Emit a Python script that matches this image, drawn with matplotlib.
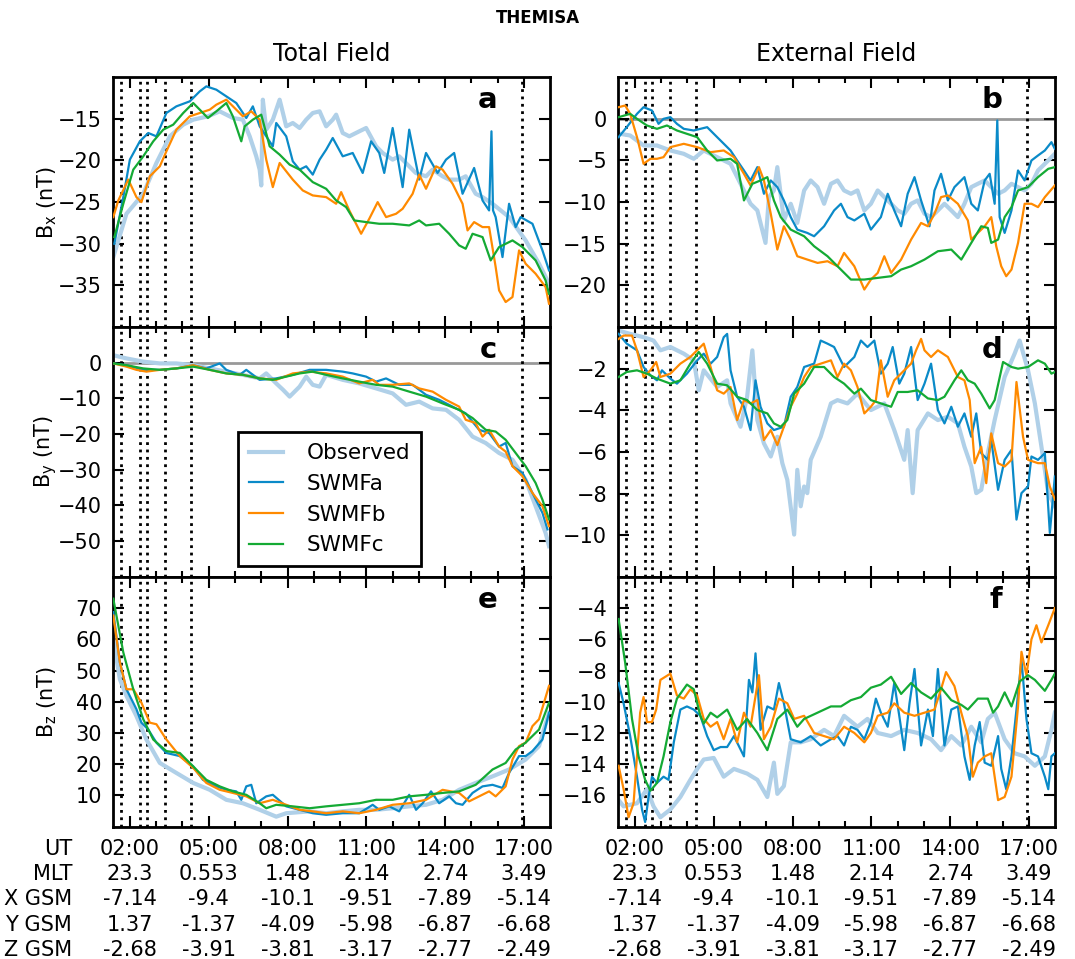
import numpy as np
import matplotlib
matplotlib.use('Agg')
from matplotlib import pyplot as plt
from matplotlib.ticker import MultipleLocator
import matplotlib.transforms as mtransforms

### time is in hours (UT); every series has its own time samples

## panel a : Bx total
a_obs_t = [1.37, 1.87, 2.51, 3.01, 3.52, 4.03, 4.41, 4.97, 5.42, 5.92, 6.30, 6.56, 6.81, 6.94, 7.0, 7.06, 7.19, 7.44, 7.70, 7.95, 8.20, 8.46, 8.71, 8.96, 9.22, 9.47, 9.72, 9.85, 10.10, 10.35, 10.73, 10.99, 11.37, 11.62, 12.0, 12.25, 12.63, 12.88, 13.27, 13.52, 13.90, 14.15, 14.53, 14.78, 15.16, 15.42, 15.80, 16.43, 17.06, 17.57, 17.95]
a_obs_v = [-31.6, -26.4, -24.0, -20.3, -17.1, -15.7, -15.1, -14.7, -14.1, -14.9, -15.1, -17.1, -19.5, -21.1, -23.0, -12.7, -16.3, -15.1, -12.7, -15.9, -15.5, -16.1, -15.1, -14.3, -14.1, -15.9, -15.1, -14.5, -16.7, -17.1, -16.5, -16.1, -18.3, -19.1, -19.9, -19.5, -20.7, -21.5, -21.9, -21.1, -21.9, -22.3, -22.3, -21.9, -24.0, -24.4, -25.2, -26.8, -29.6, -32.4, -34.8]
a_a_t = [1.41, 1.75, 2.0, 2.38, 2.70, 3.01, 3.39, 3.77, 4.28, 4.66, 4.91, 5.29, 5.67, 6.05, 6.43, 6.68, 6.94, 7.44, 7.57, 7.95, 8.20, 8.46, 8.71, 8.96, 9.22, 9.47, 9.72, 10.10, 10.48, 10.86, 11.18, 11.49, 11.68, 12.0, 12.38, 12.63, 13.01, 13.27, 13.71, 14.03, 14.34, 14.66, 15.10, 15.42, 15.67, 15.76, 15.82, 15.92, 16.18, 16.43, 16.68, 16.87, 17.32, 17.70, 17.95]
a_a_v = [-30.0, -24.4, -19.9, -17.7, -16.7, -17.1, -14.3, -13.5, -12.9, -11.7, -11.1, -11.5, -12.3, -13.1, -14.9, -13.5, -15.9, -18.3, -15.5, -17.1, -20.1, -21.1, -20.7, -21.7, -19.9, -18.7, -17.3, -19.5, -19.1, -21.5, -17.7, -19.1, -21.5, -16.1, -23.2, -16.3, -22.3, -19.1, -21.5, -19.9, -19.1, -24.0, -20.9, -24.8, -26.0, -16.5, -26.0, -26.8, -31.6, -25.2, -28.0, -26.8, -27.6, -30.8, -33.2]
a_b_t = [1.37, 1.56, 1.94, 2.25, 2.44, 2.76, 3.14, 3.39, 3.77, 4.28, 4.66, 5.04, 5.29, 5.67, 6.05, 6.30, 6.62, 6.94, 7.19, 7.44, 7.70, 8.20, 8.58, 8.96, 9.47, 9.85, 10.04, 10.35, 10.80, 11.11, 11.43, 11.75, 12.13, 12.38, 12.76, 13.01, 13.27, 13.65, 13.90, 14.28, 14.66, 14.85, 15.10, 15.42, 15.67, 15.92, 16.05, 16.30, 16.56, 16.81, 17.06, 17.44, 17.82, 17.95]
a_b_v = [-26.8, -24.8, -22.3, -24.4, -25.0, -21.9, -20.7, -18.9, -16.3, -14.7, -14.3, -13.9, -13.3, -12.7, -13.9, -14.7, -14.1, -15.1, -19.9, -23.2, -20.3, -22.3, -23.6, -24.2, -24.4, -25.2, -23.8, -26.0, -28.8, -27.0, -25.0, -26.8, -26.4, -25.8, -24.0, -21.7, -23.4, -20.7, -21.1, -22.8, -25.2, -28.4, -27.4, -28.0, -28.0, -32.8, -35.6, -37.0, -36.4, -30.8, -32.4, -33.6, -35.2, -37.2]
a_c_t = [1.41, 1.75, 2.13, 2.51, 2.89, 3.27, 3.65, 4.03, 4.41, 4.66, 4.97, 5.29, 5.67, 5.92, 6.24, 6.37, 6.68, 7.0, 7.32, 7.70, 8.08, 8.46, 8.96, 9.47, 9.85, 10.23, 10.54, 10.99, 11.49, 12.0, 12.63, 13.01, 13.27, 13.77, 14.15, 14.53, 14.78, 15.04, 15.42, 15.73, 16.05, 16.56, 16.94, 17.44, 17.82, 17.95]
a_c_v = [-29.2, -25.2, -21.1, -19.5, -17.7, -16.3, -15.7, -14.3, -13.1, -13.9, -14.9, -14.1, -13.1, -14.7, -17.7, -15.9, -15.1, -14.5, -18.3, -19.3, -20.5, -21.1, -22.6, -23.4, -24.8, -25.6, -27.2, -27.4, -27.6, -27.6, -27.8, -27.2, -27.8, -27.6, -28.8, -30.2, -30.6, -28.8, -29.2, -32.0, -30.4, -29.6, -30.4, -32.0, -34.4, -36.0]

## panel b : Bx external
b_obs_t = [1.44, 1.82, 2.33, 2.84, 3.35, 3.86, 4.24, 4.62, 5.13, 5.64, 6.02, 6.40, 6.66, 6.97, 7.10, 7.29, 7.42, 7.67, 7.93, 8.18, 8.44, 8.69, 8.95, 9.20, 9.46, 9.71, 9.96, 10.22, 10.47, 10.73, 10.98, 11.24, 11.49, 11.75, 12.0, 12.25, 12.51, 12.76, 13.02, 13.27, 13.53, 13.78, 14.04, 14.29, 14.54, 14.80, 15.05, 15.31, 15.56, 15.82, 16.07, 16.33, 16.58, 16.83, 17.09, 17.34, 17.60, 17.98]
b_obs_v = [-1.8, -2.0, -3.2, -3.2, -3.8, -4.2, -4.8, -3.8, -4.6, -5.4, -7.8, -10.2, -11.0, -14.9, -9.4, -8.6, -5.8, -12.2, -10.2, -12.5, -8.6, -7.4, -8.2, -10.2, -7.8, -7.4, -8.6, -9.0, -8.6, -11.0, -10.2, -8.6, -9.4, -10.2, -11.0, -11.4, -10.2, -9.8, -11.4, -11.8, -11.0, -10.2, -11.0, -11.8, -10.2, -8.2, -7.8, -7.4, -8.2, -9.0, -8.6, -7.8, -8.2, -8.6, -7.8, -6.2, -5.4, -4.2]
b_a_t = [1.38, 1.69, 2.08, 2.33, 2.65, 2.90, 3.09, 3.35, 3.60, 3.86, 4.24, 4.75, 5.13, 5.64, 5.89, 6.15, 6.40, 6.66, 6.91, 7.17, 7.42, 7.67, 7.93, 8.18, 8.56, 8.82, 9.20, 9.58, 9.84, 10.09, 10.35, 10.73, 10.98, 11.36, 11.62, 11.87, 12.13, 12.38, 12.64, 12.89, 13.21, 13.40, 13.65, 13.91, 14.16, 14.54, 14.80, 15.05, 15.31, 15.50, 15.69, 15.79, 15.88, 16.07, 16.33, 16.58, 16.83, 17.09, 17.34, 17.60, 17.85, 17.98]
b_a_v = [-2.2, -1.0, 0.6, 1.4, 1.0, -0.6, 0.0, 0.2, -0.6, -1.2, -1.4, -1.0, -2.2, -3.8, -5.0, -6.2, -7.4, -5.8, -9.0, -7.4, -8.2, -9.8, -11.8, -13.3, -13.7, -14.1, -12.9, -11.0, -10.2, -11.8, -12.2, -11.4, -13.3, -11.8, -9.0, -11.0, -12.9, -9.0, -7.0, -9.8, -12.9, -8.6, -6.6, -9.8, -8.2, -7.0, -10.2, -11.0, -7.4, -6.6, -10.2, -0.2, -11.8, -13.7, -11.0, -6.2, -7.4, -5.0, -4.4, -3.8, -2.8, -3.6]
b_b_t = [1.38, 1.63, 1.82, 2.08, 2.33, 2.59, 2.84, 3.09, 3.35, 3.86, 4.37, 4.88, 5.38, 5.77, 6.15, 6.40, 6.72, 6.91, 7.17, 7.42, 7.67, 7.93, 8.18, 8.56, 8.95, 9.33, 9.71, 9.96, 10.35, 10.73, 10.98, 11.24, 11.49, 11.75, 12.13, 12.51, 12.89, 13.15, 13.40, 13.65, 13.91, 14.29, 14.67, 14.80, 15.05, 15.31, 15.56, 15.75, 15.94, 16.13, 16.33, 16.58, 16.83, 17.09, 17.34, 17.60, 17.98]
b_b_v = [1.4, 1.6, 0.6, -2.2, -5.4, -4.8, -4.8, -4.6, -3.4, -3.0, -3.4, -4.0, -3.8, -4.6, -6.6, -8.0, -5.8, -7.4, -11.4, -15.7, -12.9, -14.5, -16.5, -16.9, -17.3, -17.1, -17.7, -16.1, -17.7, -20.5, -19.3, -18.5, -16.5, -18.5, -16.9, -14.5, -12.5, -12.9, -11.4, -9.4, -9.2, -10.2, -12.2, -14.5, -13.7, -12.9, -11.8, -15.3, -17.7, -18.9, -18.1, -14.9, -10.2, -10.2, -10.6, -9.4, -8.0]
b_c_t = [1.38, 1.82, 2.08, 2.46, 2.84, 3.22, 3.60, 3.98, 4.37, 4.75, 5.13, 5.64, 5.89, 6.15, 6.47, 6.78, 7.04, 7.29, 7.55, 7.93, 8.44, 8.82, 9.33, 9.71, 10.22, 10.73, 11.24, 11.75, 12.13, 12.51, 13.02, 13.53, 14.04, 14.42, 14.80, 15.18, 15.43, 15.56, 15.82, 16.07, 16.33, 16.58, 16.96, 17.34, 17.73, 17.98]
b_c_v = [0.2, 0.6, 0.0, -0.8, -1.2, -0.8, -1.4, -1.8, -2.2, -3.8, -5.0, -4.8, -5.4, -9.8, -7.8, -7.4, -7.0, -9.8, -11.8, -13.3, -14.1, -15.3, -16.5, -17.7, -19.3, -19.3, -19.1, -18.9, -18.1, -17.7, -16.9, -15.9, -15.7, -16.9, -14.9, -12.9, -13.1, -14.9, -14.5, -11.8, -10.6, -8.6, -8.2, -7.0, -6.0, -5.8]

## panel c : By total
c_obs_t = [1.37, 1.87, 2.51, 3.14, 3.77, 4.41, 5.04, 5.67, 6.30, 6.94, 7.19, 7.57, 7.83, 8.08, 8.46, 8.71, 8.96, 9.22, 9.47, 10.10, 10.73, 11.37, 12.0, 12.51, 13.01, 13.52, 14.03, 14.53, 15.04, 15.54, 16.05, 16.56, 17.06, 17.44, 17.82, 17.95]
c_obs_v = [2.1, 1.2, 0.3, -0.2, -0.2, -0.7, -1.6, -2.5, -3.4, -4.4, -3.0, -5.8, -7.6, -9.5, -6.7, -3.9, -6.2, -6.7, -3.4, -4.8, -5.8, -7.2, -8.6, -11.8, -10.9, -12.8, -13.2, -16.0, -20.7, -22.5, -25.3, -27.2, -32.8, -40.2, -47.7, -51.4]
c_a_t = [1.37, 1.87, 2.51, 3.14, 3.77, 4.41, 4.91, 5.42, 5.67, 6.18, 6.43, 6.94, 7.57, 8.20, 8.84, 9.47, 10.10, 10.48, 10.99, 11.37, 11.75, 12.25, 12.76, 13.27, 13.77, 14.28, 14.78, 15.29, 15.67, 16.05, 16.30, 16.56, 16.94, 17.32, 17.70, 17.89]
c_a_v = [-0.2, -0.7, -2.0, -2.0, -1.6, -0.7, -1.6, -0.2, -2.0, -3.4, -2.0, -4.8, -4.4, -3.4, -2.0, -2.0, -2.5, -3.0, -3.9, -5.3, -4.4, -6.2, -6.2, -9.0, -10.4, -12.3, -14.2, -18.8, -19.7, -23.5, -22.5, -29.0, -30.9, -36.5, -42.1, -46.7]
c_b_t = [1.37, 1.87, 2.25, 2.63, 3.14, 3.77, 4.41, 5.04, 5.67, 6.30, 6.94, 7.57, 8.20, 8.84, 9.47, 10.10, 10.73, 11.24, 11.49, 12.0, 12.63, 13.01, 13.52, 14.03, 14.53, 14.78, 15.16, 15.42, 15.67, 16.05, 16.30, 16.56, 16.94, 17.32, 17.70, 17.95]
c_b_v = [-0.2, -1.1, -2.0, -2.5, -2.0, -1.6, -0.7, -2.0, -3.0, -3.4, -4.4, -4.8, -3.0, -2.5, -3.0, -3.9, -5.8, -4.8, -6.2, -6.2, -5.8, -7.2, -8.1, -10.4, -12.3, -16.0, -16.9, -20.7, -18.8, -23.5, -24.9, -29.0, -31.8, -36.5, -40.2, -45.8]
c_c_t = [1.37, 1.87, 2.51, 3.14, 3.77, 4.41, 5.04, 5.67, 6.30, 6.94, 7.44, 7.95, 8.46, 8.96, 9.47, 10.10, 10.73, 11.37, 12.0, 12.63, 13.27, 13.90, 14.53, 15.04, 15.54, 15.92, 16.30, 16.68, 17.06, 17.44, 17.70, 17.95]
c_c_v = [-0.2, -0.7, -1.6, -2.0, -1.6, -1.1, -2.0, -3.0, -3.4, -4.4, -4.8, -3.9, -3.0, -2.5, -3.4, -4.4, -5.3, -6.2, -6.7, -8.1, -9.5, -11.4, -13.2, -15.5, -18.8, -19.3, -21.6, -25.3, -29.0, -33.7, -38.4, -43.9]

## panel d : By external
d_obs_t = [1.38, 1.82, 2.33, 2.71, 2.97, 3.35, 3.86, 4.24, 4.43, 4.62, 5.13, 5.51, 5.64, 6.02, 6.27, 6.47, 6.66, 6.91, 7.17, 7.42, 7.61, 7.80, 8.06, 8.18, 8.31, 8.44, 8.56, 8.69, 9.07, 9.46, 9.71, 10.09, 10.47, 10.98, 11.49, 11.87, 12.25, 12.38, 12.57, 12.76, 13.15, 13.53, 13.91, 14.29, 14.54, 14.80, 14.99, 15.18, 15.43, 15.69, 16.07, 16.45, 16.64, 16.96, 17.22, 17.47, 17.73, 17.98]
d_obs_v = [-0.17, -0.33, -0.49, -0.65, -1.12, -0.96, -1.28, -1.60, -3.04, -2.08, -2.88, -2.56, -3.67, -4.79, -3.35, -1.12, -4.47, -5.59, -6.22, -5.27, -6.54, -7.34, -9.97, -6.86, -8.61, -7.66, -7.98, -6.38, -5.27, -3.67, -3.51, -3.67, -3.20, -3.99, -3.67, -4.95, -6.38, -4.95, -7.98, -4.95, -4.15, -4.47, -4.31, -4.63, -5.75, -6.70, -7.98, -7.82, -6.06, -4.47, -2.40, -1.28, -0.65, -2.08, -3.67, -5.75, -7.98, -8.61]
d_a_t = [1.38, 1.69, 2.08, 2.33, 2.59, 2.84, 3.03, 3.35, 3.60, 3.98, 4.37, 4.62, 4.88, 5.13, 5.38, 5.51, 5.64, 5.89, 6.15, 6.40, 6.59, 6.78, 7.04, 7.29, 7.67, 7.93, 8.18, 8.44, 8.82, 9.07, 9.33, 9.58, 9.96, 10.35, 10.60, 10.85, 11.11, 11.36, 11.62, 11.81, 12.06, 12.25, 12.51, 12.76, 13.02, 13.27, 13.53, 13.78, 14.04, 14.29, 14.54, 14.80, 14.99, 15.18, 15.43, 15.56, 15.82, 16.07, 16.33, 16.52, 16.71, 16.96, 17.09, 17.34, 17.60, 17.79, 17.98]
d_a_v = [-0.33, -0.80, -1.12, -1.92, -2.32, -2.56, -2.08, -2.48, -2.72, -2.24, -1.60, -1.28, -1.76, -1.44, -0.49, -0.33, -2.08, -3.35, -3.83, -4.95, -2.56, -3.83, -4.63, -4.95, -4.79, -3.35, -2.88, -1.92, -1.76, -0.65, -0.80, -0.96, -1.92, -1.44, -0.65, -0.96, -0.65, -2.24, -1.76, -0.96, -2.72, -2.24, -0.96, -3.51, -2.72, -1.76, -3.99, -4.63, -3.83, -4.79, -4.15, -5.27, -4.15, -6.06, -6.38, -5.43, -7.82, -6.38, -5.90, -9.25, -7.98, -7.66, -6.22, -6.38, -6.06, -9.89, -7.18]
d_b_t = [1.38, 1.57, 1.89, 2.08, 2.33, 2.59, 2.81, 2.97, 3.35, 3.73, 4.11, 4.62, 4.88, 5.13, 5.38, 5.64, 5.89, 6.15, 6.40, 6.66, 6.91, 7.17, 7.42, 7.67, 7.93, 8.18, 8.44, 8.69, 9.07, 9.46, 9.71, 9.96, 10.22, 10.47, 10.73, 10.98, 11.17, 11.36, 11.62, 11.87, 12.25, 12.51, 12.70, 12.89, 13.02, 13.27, 13.53, 13.91, 14.29, 14.54, 14.74, 14.93, 15.18, 15.37, 15.56, 15.82, 16.07, 16.33, 16.52, 16.77, 16.96, 17.34, 17.60, 17.79, 17.98]
d_b_v = [-0.57, -0.41, -0.41, -1.12, -2.40, -2.08, -1.68, -2.40, -2.24, -1.76, -1.44, -0.80, -1.92, -3.04, -3.20, -2.88, -4.47, -3.51, -3.67, -3.51, -5.43, -4.95, -5.67, -4.79, -3.83, -3.20, -2.40, -1.92, -1.76, -1.60, -2.40, -1.76, -2.08, -2.88, -4.15, -3.83, -3.51, -1.60, -3.35, -2.56, -2.08, -1.76, -1.12, -0.57, -1.12, -1.44, -1.12, -1.44, -2.40, -2.56, -3.51, -6.54, -5.75, -7.50, -5.11, -6.54, -6.70, -6.38, -2.64, -5.27, -6.38, -6.54, -6.54, -7.66, -8.29]
d_c_t = [1.38, 1.69, 2.08, 2.46, 2.84, 3.35, 3.73, 4.11, 4.43, 4.75, 5.13, 5.51, 5.89, 6.27, 6.66, 7.04, 7.29, 7.55, 7.80, 8.06, 8.44, 8.82, 9.20, 9.58, 9.96, 10.35, 10.60, 10.98, 11.36, 11.75, 12.0, 12.38, 12.76, 13.15, 13.53, 13.78, 14.16, 14.42, 14.67, 14.93, 15.18, 15.50, 15.69, 16.01, 16.33, 16.58, 16.96, 17.34, 17.60, 17.85, 17.98]
d_c_v = [-2.40, -2.16, -2.08, -2.24, -2.48, -2.72, -2.56, -1.76, -1.20, -1.76, -2.72, -2.80, -3.35, -3.51, -3.99, -4.15, -4.63, -4.79, -4.47, -3.20, -2.72, -1.92, -1.92, -2.40, -2.72, -3.20, -2.96, -3.51, -3.67, -3.83, -3.12, -3.12, -3.04, -3.43, -3.51, -3.35, -2.56, -2.08, -2.56, -2.72, -3.20, -3.91, -3.51, -1.68, -1.92, -2.00, -1.92, -1.60, -1.76, -2.24, -2.16]

## panel e : Bz total
e_obs_t = [1.37, 1.62, 1.87, 2.25, 2.63, 3.14, 3.77, 4.41, 5.04, 5.67, 6.30, 6.94, 7.57, 7.95, 8.84, 9.47, 10.10, 10.73, 11.37, 12.0, 12.63, 13.27, 13.90, 14.53, 15.16, 15.80, 16.43, 17.06, 17.57, 17.95]
e_obs_v = [60.1, 47.2, 41.9, 35.4, 27.9, 20.4, 17.2, 14.0, 11.8, 8.6, 7.5, 5.4, 3.2, 4.3, 4.9, 4.3, 4.9, 5.4, 5.4, 5.9, 6.5, 7.0, 8.6, 11.8, 14.0, 16.1, 18.3, 21.5, 25.8, 36.5]
e_a_t = [1.37, 1.62, 1.87, 2.25, 2.44, 2.70, 3.01, 3.39, 3.90, 4.41, 4.78, 5.29, 5.67, 6.05, 6.24, 6.43, 6.62, 6.81, 7.19, 7.44, 7.95, 8.46, 8.96, 9.47, 10.10, 10.73, 11.24, 11.49, 11.87, 12.25, 12.63, 12.89, 13.14, 13.46, 13.77, 14.15, 14.41, 14.66, 15.04, 15.42, 15.80, 16.18, 16.43, 16.81, 17.06, 17.32, 17.70, 17.95]
e_a_v = [68.7, 52.6, 44.0, 37.6, 33.3, 31.1, 26.9, 23.6, 22.6, 19.3, 15.0, 12.9, 11.8, 11.3, 8.6, 12.9, 13.4, 7.5, 9.7, 10.2, 6.5, 5.4, 4.3, 3.8, 4.3, 4.3, 7.0, 5.4, 6.5, 4.9, 10.2, 5.4, 7.5, 11.3, 7.5, 9.7, 7.5, 7.0, 10.8, 12.9, 13.4, 12.4, 17.2, 22.6, 22.6, 24.2, 27.9, 36.5]
e_b_t = [1.37, 1.62, 1.87, 2.13, 2.44, 2.76, 3.01, 3.39, 3.90, 4.41, 4.91, 5.42, 5.92, 6.43, 6.94, 7.44, 7.95, 8.46, 8.96, 9.47, 10.10, 10.73, 11.37, 12.0, 12.63, 13.27, 13.90, 14.53, 14.91, 15.29, 15.67, 15.92, 16.30, 16.56, 16.81, 17.06, 17.32, 17.57, 17.95]
e_b_v = [67.6, 52.6, 44.0, 44.0, 39.7, 33.3, 32.8, 27.9, 22.6, 18.8, 14.0, 11.8, 10.8, 9.7, 7.5, 8.6, 7.0, 5.4, 4.9, 4.3, 4.9, 4.3, 5.4, 7.0, 7.5, 8.6, 11.8, 10.8, 8.1, 9.7, 11.3, 9.7, 12.9, 21.5, 25.8, 26.9, 32.2, 34.4, 45.1]
e_c_t = [1.37, 1.75, 2.13, 2.51, 2.89, 3.39, 3.90, 4.41, 4.91, 5.42, 5.92, 6.43, 6.94, 7.19, 7.57, 8.20, 8.84, 9.47, 10.10, 10.73, 11.37, 12.0, 12.63, 13.27, 13.90, 14.53, 15.16, 15.80, 16.30, 16.68, 17.06, 17.57, 17.95]
e_c_v = [73.0, 55.8, 44.0, 34.4, 27.9, 24.2, 23.6, 19.3, 15.0, 12.9, 11.3, 10.2, 7.5, 5.9, 7.0, 6.5, 5.9, 6.5, 7.0, 7.5, 8.6, 8.6, 9.7, 10.2, 10.8, 11.3, 13.4, 18.3, 20.4, 24.7, 26.9, 31.1, 39.7]

## panel f : Bz external
f_obs_t = [1.38, 1.57, 2.08, 2.46, 2.71, 2.97, 3.35, 3.73, 4.11, 4.37, 4.62, 5.0, 5.38, 5.77, 6.27, 6.66, 7.04, 7.29, 7.42, 7.67, 7.93, 8.31, 8.69, 9.20, 9.58, 9.96, 10.47, 10.85, 11.24, 11.75, 12.25, 12.76, 13.27, 13.65, 14.04, 14.42, 14.80, 15.18, 15.43, 15.69, 16.07, 16.45, 16.83, 17.22, 17.60, 17.85, 17.98]
f_obs_v = [-16.3, -16.7, -16.5, -15.6, -16.7, -17.4, -16.9, -16.1, -15.0, -14.3, -13.7, -13.6, -14.8, -14.3, -14.6, -15.0, -16.1, -13.9, -15.9, -15.4, -12.6, -12.6, -12.4, -11.8, -12.2, -10.9, -11.6, -11.1, -12.0, -12.2, -11.8, -12.0, -12.4, -13.1, -12.2, -12.8, -11.6, -12.6, -11.1, -10.7, -12.4, -13.3, -13.5, -14.1, -13.5, -11.8, -10.7]
f_a_t = [1.38, 1.57, 1.82, 2.08, 2.27, 2.39, 2.52, 2.65, 2.84, 3.09, 3.28, 3.48, 3.73, 3.98, 4.24, 4.49, 4.75, 5.0, 5.26, 5.51, 5.77, 6.15, 6.34, 6.47, 6.59, 6.78, 7.04, 7.29, 7.48, 7.67, 7.93, 8.31, 8.69, 9.07, 9.46, 9.71, 9.96, 10.22, 10.47, 10.73, 10.98, 11.17, 11.36, 11.62, 11.87, 12.06, 12.25, 12.45, 12.64, 12.89, 13.15, 13.34, 13.53, 13.78, 14.04, 14.29, 14.54, 14.74, 14.93, 15.12, 15.31, 15.56, 15.82, 15.94, 16.13, 16.33, 16.52, 16.71, 16.90, 17.09, 17.34, 17.60, 17.73, 17.85, 17.98]
f_a_v = [-8.8, -10.1, -12.2, -14.8, -16.9, -17.7, -16.1, -14.8, -15.2, -14.8, -15.0, -12.6, -10.5, -10.3, -10.5, -10.9, -12.2, -13.1, -12.9, -12.9, -12.2, -13.5, -8.6, -9.4, -6.9, -11.8, -10.3, -10.5, -8.8, -10.1, -12.4, -12.6, -12.2, -12.8, -12.4, -12.2, -12.8, -11.6, -11.8, -12.4, -11.3, -9.8, -10.7, -11.6, -8.8, -10.9, -13.1, -10.1, -7.9, -12.8, -10.5, -12.2, -7.9, -12.8, -10.5, -10.3, -13.5, -15.0, -12.8, -11.3, -13.9, -14.1, -12.2, -14.3, -15.6, -13.5, -10.5, -7.3, -11.1, -13.3, -13.5, -14.8, -15.6, -13.5, -13.3]
f_b_t = [1.38, 1.57, 1.76, 1.95, 2.08, 2.20, 2.33, 2.46, 2.65, 2.81, 2.97, 3.16, 3.35, 3.60, 3.86, 4.11, 4.37, 4.62, 4.88, 5.13, 5.38, 5.64, 5.89, 6.15, 6.40, 6.72, 6.91, 7.17, 7.48, 7.80, 8.06, 8.44, 8.82, 9.20, 9.58, 9.96, 10.35, 10.73, 10.98, 11.24, 11.62, 11.87, 12.25, 12.64, 13.02, 13.40, 13.65, 13.84, 14.16, 14.42, 14.67, 14.86, 15.05, 15.31, 15.56, 15.82, 16.07, 16.33, 16.58, 16.71, 16.90, 17.09, 17.28, 17.47, 17.73, 17.98]
f_b_v = [-14.1, -15.6, -17.4, -16.5, -13.5, -10.7, -9.7, -11.3, -11.3, -10.5, -8.6, -8.4, -8.2, -9.6, -9.8, -9.2, -9.6, -11.1, -11.6, -11.3, -12.4, -11.1, -12.6, -10.7, -11.6, -8.3, -12.4, -11.6, -9.8, -10.1, -11.1, -10.9, -12.0, -12.2, -12.4, -11.6, -12.0, -12.6, -12.0, -10.9, -10.7, -10.1, -10.7, -10.9, -10.7, -10.5, -9.2, -8.1, -9.0, -10.7, -12.2, -14.8, -13.9, -13.5, -13.3, -16.3, -16.1, -14.8, -10.3, -6.8, -8.3, -6.0, -5.1, -6.2, -5.1, -4.0]
f_c_t = [1.38, 1.63, 1.89, 2.14, 2.39, 2.59, 2.84, 3.09, 3.35, 3.60, 3.98, 4.24, 4.49, 4.62, 4.88, 5.13, 5.51, 5.89, 6.27, 6.66, 7.04, 7.42, 7.80, 8.18, 8.44, 8.95, 9.46, 9.84, 10.22, 10.60, 10.98, 11.36, 11.75, 12.13, 12.51, 12.89, 13.27, 13.65, 14.04, 14.42, 14.67, 15.05, 15.43, 15.63, 15.82, 16.07, 16.33, 16.64, 16.96, 17.22, 17.60, 17.85, 17.98]
f_c_v = [-4.7, -7.5, -11.1, -13.5, -15.0, -15.7, -15.2, -13.5, -11.3, -9.8, -8.9, -9.2, -10.9, -11.4, -10.7, -11.0, -10.5, -11.8, -11.1, -12.0, -13.1, -11.1, -10.5, -11.6, -11.1, -10.7, -10.3, -10.3, -9.9, -9.7, -9.1, -8.9, -8.4, -9.5, -8.8, -9.4, -9.8, -9.1, -9.9, -10.2, -10.5, -9.8, -9.8, -10.7, -10.3, -9.4, -10.3, -8.7, -8.3, -8.6, -9.3, -8.6, -8.2]

## vertical event markers (hours)
event_times = [1.66, 2.40, 2.66, 3.35, 4.34, 16.92]

## orbit table under the x axis
ut_labels = ['02:00', '05:00', '08:00', '11:00', '14:00', '17:00']
mlt_vals = ['23.3', '0.553', '1.48', '2.14', '2.74', '3.49']
xgsm_vals = ['-7.14', '-9.4', '-10.1', '-9.51', '-7.89', '-5.14']
ygsm_vals = ['1.37', '-1.37', '-4.09', '-5.98', '-6.87', '-6.68']
zgsm_vals = ['-2.68', '-3.91', '-3.81', '-3.17', '-2.77', '-2.49']
row_names = ['UT', 'MLT', 'X GSM', 'Y GSM', 'Z GSM']
major_hours = [2, 5, 8, 11, 14, 17]

series_labels = ['Observed', 'SWMFa', 'SWMFb', 'SWMFc']
obs_color = '#b0d0e8'
model_colors = ['#0a8ac8', '#ff8a00', '#14aa34']

panels = [
    ('a', [(a_obs_t, a_obs_v), (a_a_t, a_a_v), (a_b_t, a_b_v), (a_c_t, a_c_v)], (-40, -10), [-35, -30, -25, -20, -15], r'B$_\mathrm{x}$ (nT)'),
    ('b', [(b_obs_t, b_obs_v), (b_a_t, b_a_v), (b_b_t, b_b_v), (b_c_t, b_c_v)], (-25, 5), [-20, -15, -10, -5, 0], None),
    ('c', [(c_obs_t, c_obs_v), (c_a_t, c_a_v), (c_b_t, c_b_v), (c_c_t, c_c_v)], (-60, 10), [-50, -40, -30, -20, -10, 0], r'B$_\mathrm{y}$ (nT)'),
    ('d', [(d_obs_t, d_obs_v), (d_a_t, d_a_v), (d_b_t, d_b_v), (d_c_t, d_c_v)], (-12, 0), [-10, -8, -6, -4, -2], None),
    ('e', [(e_obs_t, e_obs_v), (e_a_t, e_a_v), (e_b_t, e_b_v), (e_c_t, e_c_v)], (0, 80), [10, 20, 30, 40, 50, 60, 70], r'B$_\mathrm{z}$ (nT)'),
    ('f', [(f_obs_t, f_obs_v), (f_a_t, f_a_v), (f_b_t, f_b_v), (f_c_t, f_c_v)], (-18, -2), [-16, -14, -12, -10, -8, -6, -4], None),
]

fig = plt.figure(figsize=(10.75, 9.59), dpi=100)

col_x = [0.1054, 0.5752]
row_y = [0.659, 0.3985, 0.138]
w, h = 0.4058, 0.2605
row_ls = 1.32   # line spacing of the orbit table

tick_text = ['\n'.join(r) for r in zip(ut_labels, mlt_vals, xgsm_vals, ygsm_vals, zgsm_vals)]

axes = []
for i, (letter, series, ylim, yticks, ylab) in enumerate(panels):
    row, col = i // 2, i % 2
    ax = fig.add_axes([col_x[col], row_y[row], w, h])
    axes.append(ax)

    ax.axhline(0, color='#999999', lw=2, zorder=1)
    for t in event_times:
        ax.axvline(t, color='k', ls=':', lw=2, zorder=1.5)

    t, v = series[0]
    ax.plot(t, v, color=obs_color, lw=3, zorder=2, label=series_labels[0])
    for k in range(3):
        t, v = series[k + 1]
        ax.plot(t, v, color=model_colors[k], lw=1.6, zorder=3 + k, label=series_labels[k + 1])

    ax.set_xlim(1.37, 17.97)
    ax.set_ylim(*ylim)
    ax.set_yticks(yticks)
    ax.set_xticks(major_hours)
    ax.xaxis.set_minor_locator(MultipleLocator(1))

    for sp in ax.spines.values():
        sp.set_linewidth(2)
    ax.tick_params(which='both', direction='in', top=True, right=True, width=1.5, labelsize=15)
    ax.tick_params(which='major', length=8)
    ax.tick_params(which='minor', length=4)
    ax.tick_params(axis='x', pad=9)
    ax.tick_params(axis='y', pad=8)

    if row < 2:
        ax.tick_params(labelbottom=False)
    else:
        ax.set_xticklabels(tick_text)
        for lbl in ax.get_xticklabels():
            lbl.set_linespacing(row_ls)

    if ylab:
        ax.set_ylabel(ylab, fontsize=15)
        ax.yaxis.set_label_coords(-0.125, 0.5)

    ax.text(0.88, 0.875, letter, transform=ax.transAxes, ha='right', va='baseline',
            fontsize=21, fontweight='bold')

axes[0].set_title('Total Field', fontsize=17, pad=12)
axes[1].set_title('External Field', fontsize=17, pad=12)
fig.text(0.5, 0.981, 'THEMISA', ha='center', va='center', fontsize=12, fontweight='bold')

# row names of the orbit table, lined up with the bottom tick labels
tr = mtransforms.blended_transform_factory(fig.transFigure, axes[4].transAxes)
axes[4].annotate('\n'.join(row_names), xy=(0.067, 0), xycoords=tr, xytext=(0, -9),
                 textcoords='offset points', ha='right', va='top', fontsize=15,
                 linespacing=row_ls, annotation_clip=False)

leg = axes[2].legend(loc='lower left', bbox_to_anchor=(0.286, 0.043), borderaxespad=0,
                     fontsize=15.5, fancybox=False, edgecolor='k', framealpha=1,
                     handlelength=1.6, handletextpad=1.1, labelspacing=0.5, borderpad=0.5)
leg.get_frame().set_linewidth(2)

fig.savefig('out.png', dpi=100)
